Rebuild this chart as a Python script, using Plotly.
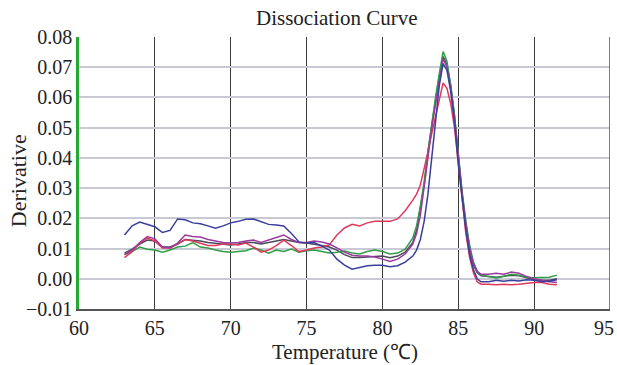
import plotly.graph_objects as go

temps = [63, 63.5, 64, 64.5, 65, 65.5, 66, 66.5, 67, 67.5, 68, 68.5, 69, 69.5, 70, 70.5,
         71, 71.5, 72, 72.5, 73, 73.5, 74, 74.5, 75, 75.5, 76, 76.5, 77, 77.5, 78, 78.5,
         79, 79.5, 80, 80.5, 81, 81.5, 82,
         82.25, 82.5, 82.75, 83, 83.25, 83.5, 83.75, 84, 84.25, 84.5, 84.75, 85, 85.25,
         85.5, 85.75, 86, 86.25, 86.5,
         87, 87.5, 88, 88.5, 89, 89.5, 90, 90.5, 91, 91.5]

blue = [.0145, .0175, .0188, .018, .0172, .0153, .016, .0198, .0195, .0185, .0182, .0175, .0167, .0175, .0185, .019,
        .0197, .0198, .019, .018, .0178, .0175, .015, .0122, .0118, .012, .0108, .0095, .0065, .0045, .0032, .0038,
        .0043, .0045, .0045, .0040, .0043, .0055, .0075,
        .0095, .013, .019, .028, .040, .053, .064, .0712, .069, .062, .052, .038, .026,
        .016, .008, .003, .0, -.001,
        -.001, -.0005, -.0008, -.0005, -.0007, -.0003, -.0005, -.001, -.0008, -.0003]

green = [.008, .009, .0105, .0098, .0095, .0088, .0095, .0105, .0108, .012, .0105, .0102, .0095, .009, .0088, .009,
         .0093, .0102, .0095, .0085, .0095, .009, .0098, .0088, .0093, .0095, .009, .0085, .0088, .0092, .0085, .0082,
         .009, .0095, .009, .0082, .0085, .0098, .0135,
         .0175, .024, .032, .042, .052, .060, .068, .0752, .072, .064, .054, .041, .029,
         .019, .011, .0055, .0025, .0012,
         .0007, .0003, .0008, .0015, .0012, .0005, .0003, .0003, .0005, .0012]

red = [.007, .009, .0118, .0135, .0125, .0102, .0102, .0115, .013, .0125, .0118, .011, .011, .0115, .0115, .0112,
       .0118, .0105, .0088, .0095, .011, .0128, .011, .009, .0095, .0102, .0105, .0112, .0145, .0168, .018, .0175,
       .0185, .019, .019, .019, .0198, .0225, .026,
       .028, .031, .036, .042, .048, .054, .060, .0648, .063, .058, .050, .038, .026,
       .015, .007, .002, -.001, -.0018,
       -.0018, -.002, -.0018, -.002, -.0018, -.0015, -.0012, -.0012, -.0018, -.002]

magenta = [.008, .0095, .012, .014, .0132, .0105, .0102, .0118, .0145, .014, .0138, .013, .0125, .012, .0118, .012,
           .0125, .0128, .012, .0128, .0135, .0145, .013, .012, .012, .0125, .0122, .0115, .0102, .0088, .0078, .0075,
           .0075, .0072, .0065, .0057, .0065, .0082, .0115,
           .015, .021, .030, .040, .050, .058, .066, .0728, .070, .063, .053, .040, .028,
           .018, .010, .005, .0025, .0015,
           .0015, .0018, .0015, .0022, .0018, .0008, .0, -.0005, -.001, -.0012]

dark = [.0085, .0098, .0115, .0128, .0125, .0105, .0105, .0115, .013, .0128, .0125, .012, .0118, .0115, .0112, .0115,
        .012, .012, .0115, .012, .0125, .013, .0125, .012, .0118, .0115, .011, .0105, .0095, .008, .007, .007,
        .0072, .0075, .0075, .007, .0075, .0088, .012,
        .016, .023, .031, .042, .051, .059, .067, .0735, .071, .064, .054, .040, .028,
        .018, .010, .0045, .002, .001,
        .0008, .0005, .0008, .0012, .001, .0003, -.0003, -.0005, -.0005, .0]

x_ticks = [60, 65, 70, 75, 80, 85, 90, 95]
x_ticktext = ["60", "65", "70", "75", "80", "85", "90", ""]
last_x_label = "95"
y_ticks = [-0.01, 0.0, 0.01, 0.02, 0.03, 0.04, 0.05, 0.06, 0.07, 0.08]

series = [
    ("Sample 4", dark, "#4a4a5a"),
    ("Sample 1", green, "#2f9e44"),
    ("Sample 2", red, "#e2385c"),
    ("Sample 3", magenta, "#9b3a9e"),
    ("Sample 5", blue, "#3a3f9c"),
]

FONT = "Liberation Serif, Times New Roman, serif"

fig = go.Figure()
for name, vals, col in series:
    fig.add_trace(go.Scatter(x=temps, y=vals, mode="lines", name=name,
                             line=dict(color=col, width=1.5)))

fig.update_layout(
    width=617, height=365,
    margin=dict(l=79, r=7, t=37, b=56),
    paper_bgcolor="white", plot_bgcolor="white",
    showlegend=False,
    font=dict(family=FONT, size=20, color="#222"),
    xaxis=dict(range=[60, 95], tickvals=x_ticks, ticktext=x_ticktext,
               showgrid=True, gridcolor="#3a3a3a", gridwidth=1.4,
               showline=True, linecolor="#555", linewidth=2,
               zeroline=False, ticks="", fixedrange=True, automargin=False,
               ticklabeloverflow="allow"),
    yaxis=dict(range=[-0.01, 0.08], tickvals=y_ticks, tickformat=".2f",
               showgrid=True, gridcolor="#c9c9d6", gridwidth=1.5,
               showline=True, linecolor="#22aa33", linewidth=2.5,
               zeroline=False, ticks="", fixedrange=True, automargin=False),
    shapes=[dict(type="line", xref="x", yref="paper", x0=95, x1=95, y0=0, y1=1,
                 line=dict(color="#555", width=1.5))],
)
fig.add_annotation(text=last_x_label, x=1.0, xref="paper", y=0, yref="paper",
                   xshift=6, yshift=-19, xanchor="right", yanchor="middle", showarrow=False,
                   font=dict(family=FONT, size=20, color="#222"))
fig.add_annotation(text="Dissociation Curve", x=0.486, xref="paper", y=1.0, yref="paper",
                   yshift=19, xanchor="center", yanchor="middle", showarrow=False,
                   font=dict(family=FONT, size=21, color="#222"))
fig.add_annotation(text="Temperature (℃)", x=0.50, xref="paper", y=0, yref="paper",
                   yshift=-43, xanchor="center", yanchor="middle", showarrow=False,
                   font=dict(family=FONT, size=21, color="#222"))
fig.add_annotation(text="Derivative", x=0, xref="paper", y=0.47, yref="paper",
                   xshift=-61, xanchor="center", yanchor="middle", textangle=-90, showarrow=False,
                   font=dict(family=FONT, size=22, color="#222"))

fig.write_html("out.html", config={"displayModeBar": False},
               post_script="document.body.style.margin='0';document.body.style.overflow='hidden';")
